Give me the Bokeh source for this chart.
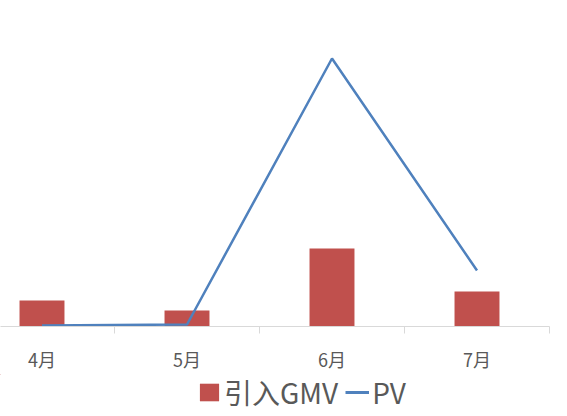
from bokeh.plotting import figure
from bokeh.layouts import column
from bokeh.models import Range1d, LinearAxis, FixedTicker, Legend, LegendItem
from bokeh.embed import file_html
from bokeh.resources import INLINE

months = ["4月", "5月", "6月", "7月"]
gmv = [2.6, 1.6, 7.8, 3.5]
pv = [1, 2, 268, 56]
series_names = ["引入GMV", "PV"]

xs = list(range(len(months)))
FONT = "Noto Sans CJK SC"
TXT = "#595959"
BAR_C = "#C0504D"
LINE_C = "#4F81BD"

p = figure(frame_width=549, frame_height=326, output_backend="svg", toolbar_location=None,
           x_axis_location=None, y_axis_location=None,
           x_range=Range1d(3.5 - 549 / 145, 3.5), y_range=Range1d(0, 32.6),
           min_border_left=0, min_border_right=18, min_border_top=0,
           min_border_bottom=40)
p.extra_y_ranges = {"pv": Range1d(0, 326)}
p.outline_line_color = None
p.grid.visible = False

bars = p.vbar(x=xs, top=gmv, width=0.31, color=BAR_C, line_color=None)
line = p.line(x=xs, y=pv, y_range_name="pv", line_width=2.5, line_color=LINE_C)

ax = LinearAxis(ticker=FixedTicker(ticks=xs, minor_ticks=[i + 0.5 for i in xs]))
ax.major_label_overrides = {i: m for i, m in zip(xs, months)}
ax.axis_line_color = "#D9D9D9"
ax.axis_line_width = 1
ax.major_tick_line_color = None
ax.major_tick_in = 0
ax.major_tick_out = 0
ax.minor_tick_line_color = "#D9D9D9"
ax.minor_tick_in = 0
ax.minor_tick_out = 7
ax.major_label_standoff = 12
ax.major_label_text_font = FONT
ax.major_label_text_font_size = "18px"
ax.major_label_text_color = TXT
p.add_layout(ax, "below")

# legend strip below the chart (its own copies of the series, kept out of view)
q = figure(width=567, height=50, output_backend="svg", toolbar_location=None,
           x_axis_location=None, y_axis_location=None,
           x_range=Range1d(1000, 1001), y_range=Range1d(-2000, -1000),
           min_border_left=0, min_border_right=0, min_border_top=0,
           min_border_bottom=0)
q.outline_line_color = None
q.grid.visible = False
lb = q.vbar(x=xs, top=gmv, width=0.31, color=BAR_C, line_color=None)
ll = q.line(x=xs, y=pv, line_width=3, line_color=LINE_C)

legend = Legend(items=[LegendItem(label=series_names[0], renderers=[lb]),
                       LegendItem(label=series_names[1], renderers=[ll])],
                orientation="horizontal", location=(197, 12),
                label_text_font=FONT, label_text_font_size="28px",
                label_text_color=TXT, glyph_width=24, glyph_height=22,
                label_standoff=3, spacing=7, padding=0, margin=0,
                border_line_color=None, background_fill_alpha=0)
q.add_layout(legend, "center")

layout = column(p, q, spacing=0)
open("out.html", "w").write(file_html(layout, INLINE))
